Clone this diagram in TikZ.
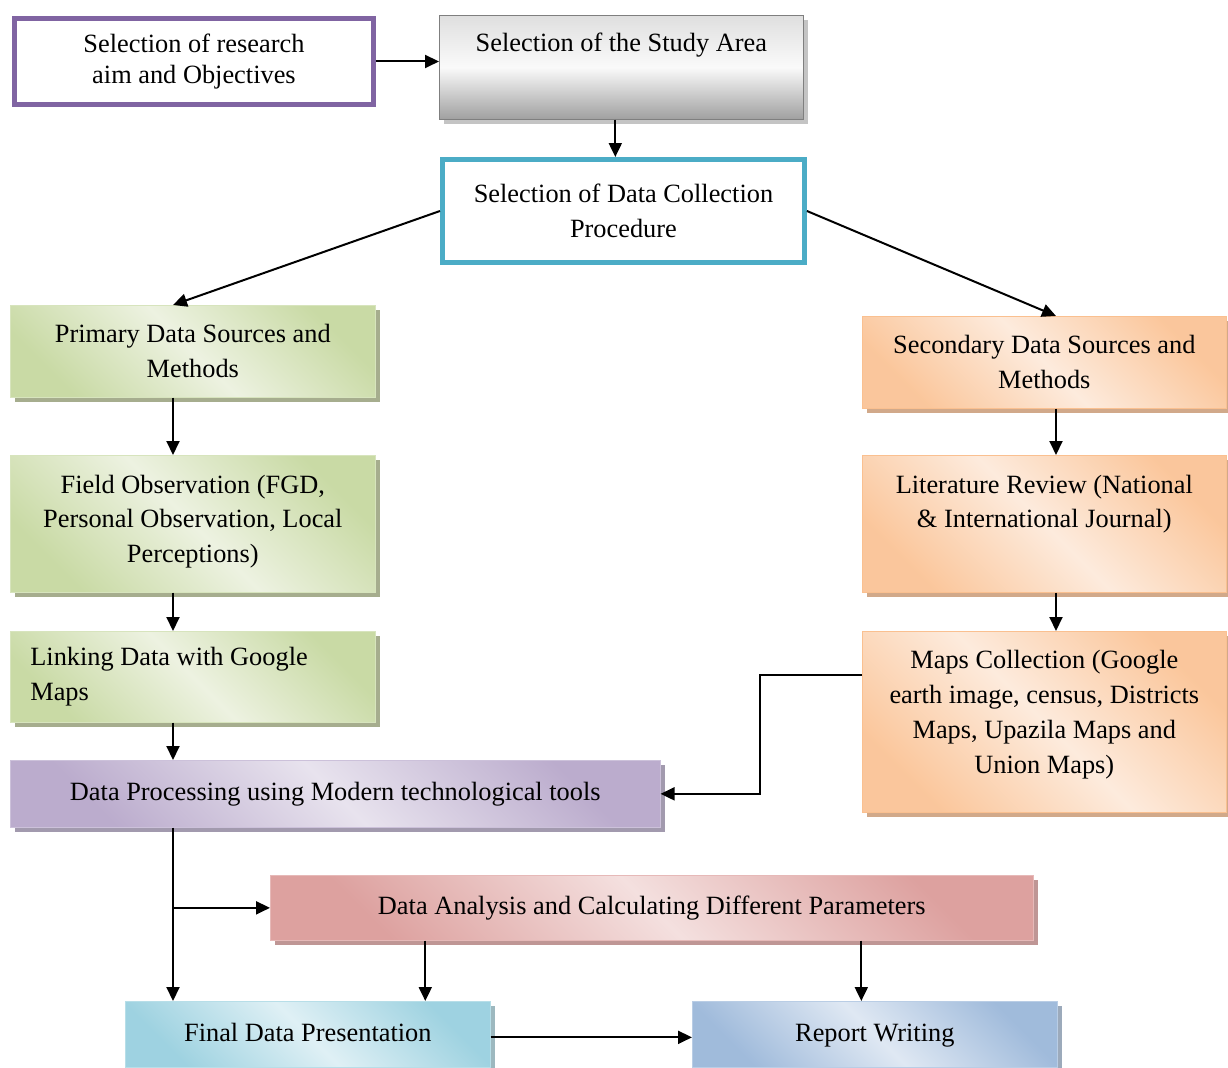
\documentclass[tikz,border=0pt]{standalone}
\usepackage{fontspec}
\setmainfont{Liberation Serif}
\usetikzlibrary{arrows.meta,shadows}

\definecolor{aimline}{HTML}{8064A2}
\definecolor{dcpline}{HTML}{4BACC6}
\definecolor{greydark}{HTML}{A0A0A0}
\definecolor{greylight}{HTML}{FAFAFA}
\definecolor{greyline}{HTML}{7F7F7F}
\definecolor{greyshadow}{HTML}{C4C4C4}
\definecolor{greendark}{HTML}{C3D69B}
\definecolor{greenlight}{HTML}{EDF2E1}
\definecolor{greenline}{HTML}{D7E4BD}
\definecolor{greenshadow}{HTML}{A6AD8E}
\definecolor{orangedark}{HTML}{FAC090}
\definecolor{orangelight}{HTML}{FDEBDD}
\definecolor{orangeline}{HTML}{FAC090}
\definecolor{orangeshadow}{HTML}{D1A98A}
\definecolor{violetdark}{HTML}{B3A2C7}
\definecolor{violetlight}{HTML}{E8E3EE}
\definecolor{violetline}{HTML}{CCC1DA}
\definecolor{violetshadow}{HTML}{A29AAE}
\definecolor{reddark}{HTML}{D99694}
\definecolor{redlight}{HTML}{F4E0DF}
\definecolor{redline}{HTML}{E6B9B8}
\definecolor{redshadow}{HTML}{BF9695}
\definecolor{tealdark}{HTML}{93CDDD}
\definecolor{teallight}{HTML}{DFF0F5}
\definecolor{tealline}{HTML}{B7DEE8}
\definecolor{tealshadow}{HTML}{9DB8BF}
\definecolor{bluedark}{HTML}{95B3D7}
\definecolor{bluelight}{HTML}{DFE8F3}
\definecolor{blueline}{HTML}{B9CDE5}
\definecolor{blueshadow}{HTML}{9CAABB}

\tikzset{
  stage/.style={draw, thin, align=center, anchor=north west, inner sep=0pt,
    font=\fontsize{15}{19.9}\selectfont},
  plainstage/.style={stage, line width=0.1cm, fill=white, draw=#1},
  fadestage/.style n args={4}{stage, draw=#3, top color=#1!85!#2, bottom color=#1!85!#2,
    middle color=#2, shading angle=-45,
    drop shadow={shadow xshift=0.1cm, shadow yshift=-0.1cm, fill=#4, opacity=1}},
  flow/.style={-{Triangle[length=0.28cm,width=0.26cm]}, line width=0.04cm},
}

\begin{document}
\begin{tikzpicture}[x=0.02cm,y=-0.02cm]
  \useasboundingbox (0,0) rectangle (1228,1068);
  \coordinate (lane) at (173,0);
  \coordinate (rlane) at (1056,0);
  \coordinate (bend) at (760,0);

  % top row
  \node[plainstage=aimline, minimum width=7.18cm, minimum height=1.72cm] (aim) at (12,16)
    {Selection of research\\[-0.08cm]aim and Objectives};
  \node[fadestage={greydark}{greylight}{greyline}{greyshadow}, top color=greylight!70!greydark,
    bottom color=greydark, middle color=greylight, shading angle=0,
    minimum width=7.28cm, minimum height=2.08cm] (study) at (439,15)
    {Selection of the Study Area\\[0.32cm]\mbox{}};
  \node[plainstage=dcpline, minimum width=7.24cm, minimum height=2.06cm] (dcp) at (440,157)
    {Selection of Data Collection\\Procedure};

  % primary column
  \node[fadestage={greendark}{greenlight}{greenline}{greenshadow},
    minimum width=7.3cm, minimum height=1.84cm] (primary) at (10,305)
    {Primary Data Sources and\\Methods};
  \node[fadestage={greendark}{greenlight}{greenline}{greenshadow},
    minimum width=7.3cm, minimum height=2.74cm] (field) at (10,455)
    {Field Observation (FGD,\\Personal Observation, Local\\Perceptions)\\[-0.5cm]\mbox{}};
  \node[fadestage={greendark}{greenlight}{greenline}{greenshadow},
    minimum width=7.3cm, minimum height=1.82cm, text width=6.5cm, align=flush left] (linking) at (10,631)
    {Linking Data with Google\\Maps};

  % secondary column
  \node[fadestage={orangedark}{orangelight}{orangeline}{orangeshadow},
    minimum width=7.28cm, minimum height=1.84cm] (secondary) at (862,316)
    {Secondary Data Sources and\\Methods};
  \node[fadestage={orangedark}{orangelight}{orangeline}{orangeshadow},
    minimum width=7.28cm, minimum height=2.74cm] (lit) at (862,455)
    {Literature Review (National\\\& International Journal)\\[-0.5cm]\mbox{}\\\mbox{}};
  \node[fadestage={orangedark}{orangelight}{orangeline}{orangeshadow},
    minimum width=7.28cm, minimum height=3.62cm] (maps) at (862,631)
    {Maps Collection (Google\\earth image, census, Districts\\Maps, Upazila Maps and\\Union Maps)\\[-0.3cm]\mbox{}};

  % processing and output
  \node[fadestage={violetdark}{violetlight}{violetline}{violetshadow},
    minimum width=13cm, minimum height=1.34cm] (dp) at (10,760)
    {Data Processing using Modern technological tools\strut};
  \node[fadestage={reddark}{redlight}{redline}{redshadow},
    minimum width=15.26cm, minimum height=1.3cm] (analysis) at (270,875)
    {Data Analysis and Calculating Different Parameters\strut};
  \node[fadestage={tealdark}{teallight}{tealline}{tealshadow},
    minimum width=7.3cm, minimum height=1.32cm] (final) at (125,1001)
    {Final Data Presentation\strut};
  \node[fadestage={bluedark}{bluelight}{blueline}{blueshadow},
    minimum width=7.3cm, minimum height=1.32cm] (report) at (692,1001)
    {Report Writing\strut};

  % connectors
  \draw[flow] (aim.east) -- (aim.east -| study.west);
  \draw[flow] ([xshift=-0.12cm]study.south) -- ([xshift=-0.12cm]study.south |- dcp.north);
  \draw[flow] (dcp.west) -- (primary.north -| lane);
  \draw[flow] (dcp.east) -- (secondary.north -| rlane);
  \draw[flow] (primary.south -| lane) -- (field.north -| lane);
  \draw[flow] (field.south -| lane) -- (linking.north -| lane);
  \draw[flow] (linking.south -| lane) -- (dp.north -| lane);
  \draw[flow] (secondary.south -| rlane) -- (lit.north -| rlane);
  \draw[flow] (lit.south -| rlane) -- (maps.north -| rlane);
  \draw[flow] ([yshift=0.93cm]maps.west) -| (bend |- dp.east) -- (dp.east);
  \draw[flow] (dp.south -| lane) -- (final.north -| lane);
  \draw[flow] (analysis.west -| lane) -- (analysis.west);
  \draw[flow] ([xshift=2.35cm]final.north |- analysis.south) -- ([xshift=2.35cm]final.north);
  \draw[flow] ([xshift=-0.27cm]report.north |- analysis.south) -- ([xshift=-0.27cm]report.north);
  \draw[flow] ([yshift=-0.06cm]final.east) -- ([yshift=-0.06cm]final.east -| report.west);
\end{tikzpicture}
\end{document}
